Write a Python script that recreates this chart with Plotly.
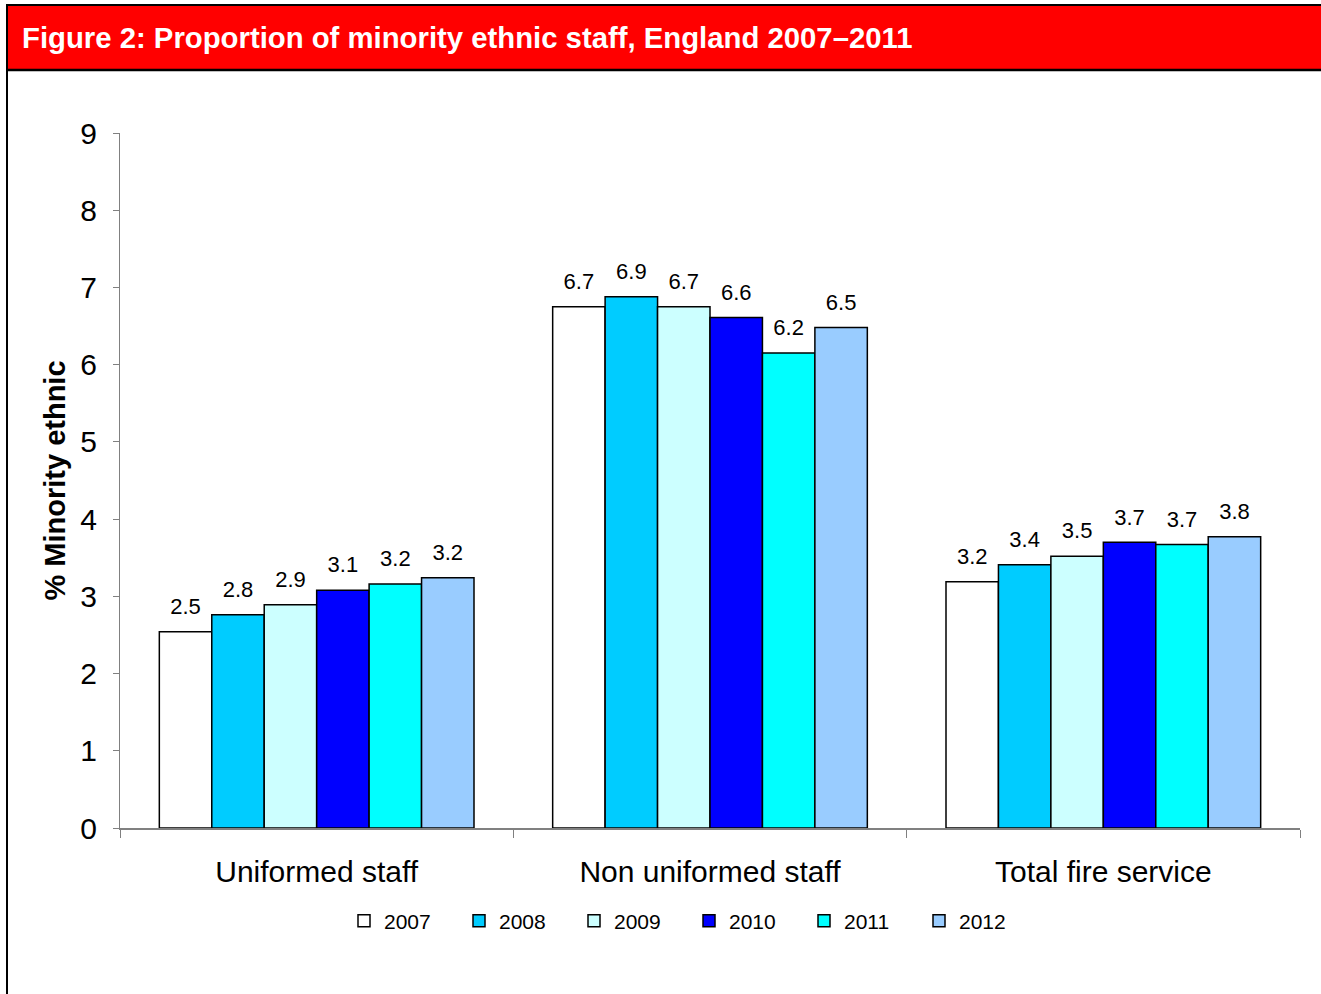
import plotly.graph_objects as go

categories = ["Uniformed staff", "Non uniformed staff", "Total fire service"]
years = ["2007", "2008", "2009", "2010", "2011", "2012"]
values = {
    "2007": [2.54, 6.75, 3.19],
    "2008": [2.76, 6.88, 3.41],
    "2009": [2.89, 6.75, 3.52],
    "2010": [3.08, 6.61, 3.70],
    "2011": [3.16, 6.15, 3.67],
    "2012": [3.24, 6.48, 3.77],
}
labels = {
    "2007": ["2.5", "6.7", "3.2"],
    "2008": ["2.8", "6.9", "3.4"],
    "2009": ["2.9", "6.7", "3.5"],
    "2010": ["3.1", "6.6", "3.7"],
    "2011": ["3.2", "6.2", "3.7"],
    "2012": ["3.2", "6.5", "3.8"],
}
colors = ["#FFFFFF", "#00CCFF", "#CCFFFF", "#0000FF", "#00FFFF", "#99CCFF"]
title_text = "Figure 2: Proportion of minority ethnic staff, England 2007\u20132011"
y_title = "% Minority ethnic"

FONT = "Liberation Sans, Arial, sans-serif"

fig = go.Figure()
for y, c in zip(years, colors):
    fig.add_trace(go.Bar(
        name=y, x=categories, y=values[y],
        marker=dict(color=c, line=dict(color="black", width=1.5)),
        hoverinfo="skip",
    ))
for y in years:
    fig.add_trace(go.Scatter(
        x=categories, y=values[y], text=labels[y], mode="markers+text",
        textposition="top center", cliponaxis=False, showlegend=False,
        marker=dict(size=18, opacity=0), hoverinfo="skip",
        textfont=dict(size=22, color="black", family=FONT),
    ))

W, H = 1321, 994
L, R, T, B = 120, 21, 133, 166
pw, ph = W - L - R, H - T - B

def px(x):
    return (x - L) / pw

def py(y):
    return (H - B - y) / ph

shapes = [
    dict(type="rect", xref="paper", yref="paper", x0=px(7), x1=px(1322), y0=py(70), y1=py(5),
         fillcolor="#FF0000", line=dict(width=0), layer="below"),
    dict(type="line", xref="paper", yref="paper", x0=px(6), x1=px(1322), y0=py(5), y1=py(5),
         line=dict(color="black", width=2)),
    dict(type="line", xref="paper", yref="paper", x0=px(6), x1=px(1322), y0=py(70), y1=py(70),
         line=dict(color="black", width=2.5)),
    dict(type="line", xref="paper", yref="paper", x0=px(7), x1=px(7), y0=py(4), y1=py(1000),
         line=dict(color="black", width=2)),
]

fig.update_layout(
    width=W, height=H,
    margin=dict(l=L, r=R, t=T, b=B, autoexpand=False),
    paper_bgcolor="white", plot_bgcolor="white",
    font=dict(family=FONT, color="black"),
    barmode="group", bargap=0.2, bargroupgap=0,
    scattermode="group", scattergap=0.2,
    showlegend=True,
    legend=dict(orientation="h", x=px(689), xanchor="center", y=py(921), yanchor="middle",
                font=dict(size=21, family=FONT), entrywidth=70, entrywidthmode="pixels",
                itemclick=False),
    shapes=shapes,
    annotations=[dict(text="<b>" + title_text + "</b>", xref="paper", yref="paper",
                      x=px(20), y=py(38), xanchor="left", yanchor="middle", showarrow=False,
                      font=dict(size=29.3, color="white", family=FONT))],
    xaxis=dict(showline=True, linecolor="#808080", linewidth=2, ticks="outside",
               tickson="boundaries", ticklen=8, tickcolor="#808080",
               tickfont=dict(size=30, family=FONT), ticklabelstandoff=16, showgrid=False),
    yaxis=dict(range=[0, 9], dtick=1, showline=True, linecolor="#808080", linewidth=1,
               ticks="outside", ticklen=6, tickcolor="#808080", showgrid=False, zeroline=False,
               tickfont=dict(size=30, family=FONT), ticklabelstandoff=10,
               title=dict(text="<b>" + y_title + "</b>", font=dict(size=29, family=FONT), standoff=6)),
)

fig.write_html("out.html", config={"displayModeBar": False},
               post_script="document.body.style.margin='0px';document.body.style.overflow='hidden';")
